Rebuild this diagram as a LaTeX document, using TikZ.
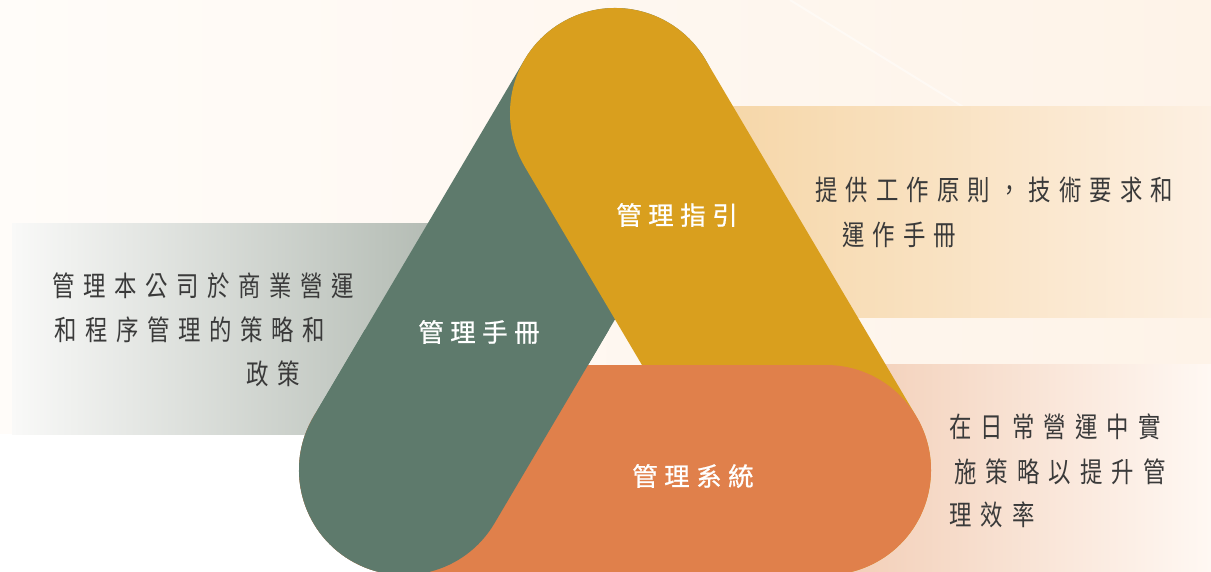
\documentclass[tikz,border=0pt]{standalone}
\usepackage{fontspec}
\newfontfamily\bodyfont{Noto Sans CJK TC}[FakeStretch=0.8]
\newfontfamily\labelfont{Noto Sans CJK TC}[FakeBold=0.8]
\definecolor{barGreen}{HTML}{5E7A6C}
\definecolor{barYellow}{HTML}{D99F1E}
\definecolor{barOrange}{HTML}{E0804B}
\definecolor{bgBase}{HTML}{FFFCF9}
\definecolor{bgPeach}{HTML}{FEF3E8}
\definecolor{bandGrayL}{HTML}{F9F9F8}
\definecolor{bandGrayR}{HTML}{B3BBB3}
\definecolor{bandTanL}{HTML}{F6D7A9}
\definecolor{bandTanR}{HTML}{FDF0E2}
\definecolor{bandRoseL}{HTML}{F2CDB5}
\definecolor{bandRoseR}{HTML}{FFF8F3}
\definecolor{bodyGray}{HTML}{3A3A3A}
\newdimen\spcpitch
\def\spcloop#1{\ifx\relax#1\else\hbox to\spcpitch{#1\hss}\expandafter\spcloop\fi}
\newcommand\spaced[2]{\spcpitch=#1\relax\spcloop#2\relax}
\tikzset{
  bar/.style={line width=210pt, line cap=round},
  bodytext/.style={anchor=west, inner sep=0pt, text=bodyGray,
    font=\bodyfont\fontsize{28}{32}\selectfont},
  bartext/.style={anchor=west, inner sep=0pt, text=white,
    font=\labelfont\fontsize{25.5}{30}\selectfont},
}
\begin{document}
\begin{tikzpicture}[x=1pt,y=-1pt]
\useasboundingbox (0,0) rectangle (1211,572);
% background
\shade[left color=bgBase, right color=bgPeach] (0,0) rectangle (1211,572);
\fill[white] (0,434) rectangle (440,572);
\draw[white, line width=2pt, opacity=0.45] (790,0) -- (1211,260);
% text bands
\shade[left color=bandGrayL, right color=bandGrayR] (12,224) rectangle (440,434);
\shade[left color=bandTanL, right color=bandTanR] (730,107) rectangle (1211,318);
\shade[left color=bandRoseL, right color=bandRoseR] (830,364) rectangle (1211,572);
% bars
\coordinate (A) at (615,113);
\coordinate (B) at (404,470);
\coordinate (C) at (826,470);
\draw[bar, barGreen] (A) -- (B);
\draw[bar, barYellow] (A) -- (C);
\draw[bar, barOrange] (B) -- (C);
\begin{scope}
  \clip (0,330) rectangle (1211,600);
  \draw[bar, barGreen] (A) -- (B);
\end{scope}
% bar labels
\node[bartext] (guide) at (616,215) {\spaced{32pt}{管理指引}};
\node[bartext] (manual) at (418,332) {\spaced{32pt}{管理手冊}};
\node[bartext] (system) at (632,476) {\spaced{32pt}{管理系統}};
% descriptions
\node[bodytext] (l1) at (52,286) {\spaced{31pt}{管理本公司於商業營運}};
\node[bodytext] (l2) at (54,330) {\spaced{31pt}{和程序管理的策略和}};
\node[bodytext] (l3) at (246,374) {\spaced{31pt}{政策}};
\node[bodytext] (r1) at (815,190) {\spaced{30.5pt}{提供工作原則，技術要求和}};
\node[bodytext] (r2) at (842,235) {\spaced{30.5pt}{運作手冊}};
\node[bodytext] (s1) at (949,427) {\spaced{31.5pt}{在日常營運中實}};
\node[bodytext] (s2) at (954,472) {\spaced{31.5pt}{施策略以提升管}};
\node[bodytext] (s3) at (949,515) {\spaced{31.5pt}{理效率}};
\end{tikzpicture}
\end{document}
